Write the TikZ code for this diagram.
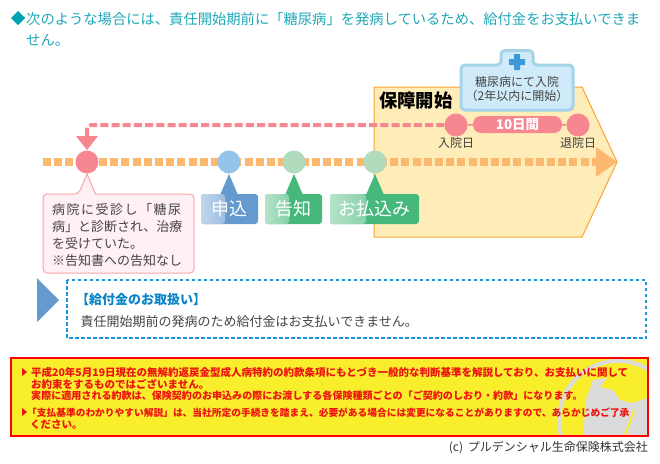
\documentclass[tikz,border=0pt]{standalone}
\usepackage{fontspec}
\setmainfont{Noto Sans CJK JP}
\usetikzlibrary{backgrounds}

\definecolor{headteal}{HTML}{1FA8B8}
\definecolor{diateal}{HTML}{00A2B5}
\definecolor{linepink}{HTML}{F6868F}
\definecolor{lineorange}{HTML}{FDB86F}
\definecolor{shieldfill}{HTML}{FFEDB9}
\definecolor{shieldline}{HTML}{F9A133}
\definecolor{dotblue}{HTML}{93C5EB}
\definecolor{dotgreen}{HTML}{B0DCBD}
\definecolor{tagblue}{HTML}{659ACF}
\definecolor{taggreen}{HTML}{47B87B}
\definecolor{notefill}{HTML}{FFF0F5}
\definecolor{noteline}{HTML}{F8A3AD}
\definecolor{capfill}{HTML}{CFEBFA}
\definecolor{capline}{HTML}{A5D4EA}
\definecolor{crossblue}{HTML}{3E97D6}
\definecolor{dashblue}{HTML}{1E96DC}
\definecolor{headblue}{HTML}{0A85C8}
\definecolor{warnfill}{HTML}{F9EE2B}
\definecolor{warnred}{HTML}{EE1111}
\definecolor{bodygray}{HTML}{444444}

\tikzset{
  headtext/.style={anchor=west, inner sep=0pt, text=headteal, font=\fontsize{14.3}{14.3}\selectfont},
  dot/.style={circle, inner sep=0pt, minimum size=#1},
  tag/.style={rounded corners=3pt, inner sep=0pt, minimum height=30pt, text=white,
    font=\fontsize{18}{18}\selectfont, fill=#1},
  warntext/.style={anchor=west, inner sep=0pt, text=warnred, font=\fontsize{10.5}{10.5}\selectfont\bfseries},
  smalltext/.style={inner sep=0pt, text=bodygray, font=\fontsize{12}{12}\selectfont},
  notetext/.style={anchor=west, inner sep=0pt, text=bodygray, font=\fontsize{13}{13}\selectfont},
}

\begin{document}
\begin{tikzpicture}[x=1pt, y=-1pt]
  \useasboundingbox (0,0) rectangle (660,463);

  % Heading
  \fill[diateal] (11,18) -- (18,11) -- (25,18) -- (18,25) -- cycle;
  \node[headtext] (head1) at (26,19) {次のような場合には、責任開始期前に「糖尿病」を発病しているため、給付金をお支払いできま};
  \node[headtext] (head2) at (26,40) {せん。};

  % Caption with cross tab
  \draw[capline, fill=capfill, line width=3pt, rounded corners=4pt]
    (461,65) -- (501,65) -- (501,50.5) -- (533,50.5) -- (533,65) -- (573,65)
    -- (573,110) -- (461,110) -- cycle;
  \fill[crossblue, rounded corners=0.5pt] (514,54) rectangle (520,70);
  \fill[crossblue, rounded corners=0.5pt] (509,59) rectangle (525,65);
  \node[smalltext] (cap1) at (517,82) {糖尿病にて入院};
  \node[smalltext] (cap2) at (517,96) {（2年以内に開始）};
  \node[inner sep=0pt, anchor=west, font=\fontsize{18.3}{18.3}\selectfont\bfseries] (cover) at (379,100.5) {保障開始};

  % Time line points
  \node[dot=23pt, fill=linepink] (onset) at (87,162) {};
  \node[dot=23pt, fill=dotblue] (apply) at (229,162) {};
  \node[dot=23pt, fill=dotgreen] (notify) at (294,162) {};
  \node[dot=23pt, fill=dotgreen] (pay) at (375,162) {};
  \node[dot=23pt, fill=linepink] (admit) at (456,125) {};
  \node[dot=23pt, fill=linepink] (leave) at (578,125) {};
  \node[fill=linepink, rounded corners=8pt, minimum width=89pt, minimum height=17pt, inner sep=0pt,
    text=white, font=\fontsize{13.5}{13.5}\selectfont\bfseries] (stay) at (517.5,124.5) {10日間};
  \node[smalltext, text=black!75] (admitday) at (456,143) {入院日};
  \node[smalltext, text=black!75] (leaveday) at (578,143) {退院日};
  \coordinate (start) at (43,162);
  \coordinate (tip) at (597,162);
  \coordinate (bend) at (87,125);
  \coordinate (drop) at (87,137);

  % Shield and lines behind the points
  \begin{scope}[on background layer]
    \draw[shieldline, fill=shieldfill, line width=1pt] (374,87) -- (582,87) -- (617,162) -- (582,237) -- (374,237) -- cycle;
    \draw[lineorange, line width=8pt, dash pattern=on 8pt off 3.2pt] (start) -- (tip);
    \draw[linepink, line width=4pt, dash pattern=on 8pt off 3.2pt, rounded corners=4pt] (admit) -- (bend) -- (drop);
  \end{scope}
  \draw[linepink, line width=1.5pt] (admit) -- (stay);
  \draw[linepink, line width=1.5pt] (stay) -- (leave);

  % Arrow heads
  \fill[lineorange] (596,147) -- (617,162) -- (596,177) -- cycle;
  \fill[linepink] (76,136) -- (98,136) -- (87,150) -- cycle;
  \fill[linepink] (85,128) rectangle (89,137);

  % Tags under the points
  \fill[tagblue] (229,174) -- (238,195) -- (220,195) -- cycle;
  \fill[taggreen] (294,174) -- (303,195) -- (285,195) -- cycle;
  \fill[taggreen] (375,174) -- (384,195) -- (366,195) -- cycle;
  \node[tag=tagblue, minimum width=57pt, path picture={
      \shade[left color=tagblue!40, right color=tagblue] (path picture bounding box.north west) rectangle ++(24,30);
    }] (applytag) at (229.5,209) {申込};
  \node[tag=taggreen, minimum width=57pt, path picture={
      \shade[left color=taggreen!40, right color=taggreen] (path picture bounding box.north west) rectangle ++(24,30);
    }] (notifytag) at (293.5,209) {告知};
  \node[tag=taggreen, minimum width=89pt, path picture={
      \shade[left color=taggreen!40, right color=taggreen] (path picture bounding box.north west) rectangle ++(36,30);
    }] (paytag) at (374.5,209) {お払込み};

  % Note under onset
  \draw[noteline, fill=notefill, line width=1pt, rounded corners=4pt]
    (43,194) -- (78.5,194) [sharp corners] -- (87,174) -- (95.5,194) [rounded corners=4pt] -- (194,194)
    -- (194,273) -- (43,273) -- cycle;
  \node[notetext, font=\fontsize{13}{13}\selectfont\addfontfeature{LetterSpace=11.5}] (note1) at (52,209.5) {病院に受診し「糖尿};
  \node[notetext] (note2) at (52,226.5) {病」と診断され、治療};
  \node[notetext] (note3) at (52,243.5) {を受けていた。};
  \node[notetext] (note4) at (52,260.5) {※告知書への告知なし};

  % Result box
  \fill[tagblue] (37,278) -- (59,300) -- (37,322) -- cycle;
  \draw[dashblue, line width=1.2pt, dash pattern=on 3.5pt off 2.5pt] (67,280) rectangle (646,338);
  \node[notetext, text=headblue, font=\fontsize{13}{13}\selectfont\bfseries] (result1) at (76,300) {【給付金のお取扱い】};
  \node[notetext] (result2) at (80.5,321.5) {責任開始期前の発病のため給付金はお支払いできません。};

  % Warning panel
  \fill[warnfill] (11,358) rectangle (648,436);
  \begin{scope}
    \clip (11,358) rectangle (648,436);
    \draw[black!14, line width=4pt] (618,420) circle (59);
    \fill[black!14] (583,436) -- (586,400) -- (593,380) -- (607,378) -- (600,387) -- (613,390)
      -- (620,400) -- (632,403) -- (648,398) -- (648,436) -- cycle;
    \draw[warnfill, line width=2pt] (634,410) -- (625,436);
  \end{scope}
  \draw[red, line width=2.5pt] (11,358) rectangle (648,436);
  \fill[warnred] (22,368) -- (27,372) -- (22,376) -- cycle;
  \fill[warnred] (22,408) -- (27,412) -- (22,416) -- cycle;
  \node[warntext] (warn1) at (31,372) {平成20年5月19日現在の無解約返戻金型成人病特約の約款条項にもとづき一般的な判断基準を解説しており、お支払いに関して};
  \node[warntext] (warn2) at (31,384.5) {お約束をするものではございません。};
  \node[warntext, font=\fontsize{10.05}{10.05}\selectfont\bfseries] (warn3) at (31,396) {実際に適用される約款は、保険契約のお申込みの際にお渡しする各保険種類ごとの「ご契約のしおり・約款」になります。};
  \node[warntext, font=\fontsize{9.72}{9.72}\selectfont\bfseries] (warn4) at (27,413) {「支払基準のわかりやすい解説」は、当社所定の手続きを踏まえ、必要がある場合には変更になることがありますので、あらかじめご了承};
  \node[warntext] (warn5) at (30,425) {ください。};

  % Copyright
  \node[inner sep=0pt, anchor=east, text=black!80, font=\fontsize{12}{12}\selectfont] (copyright) at (648,448) {(c)\hspace{2pt} プルデンシャル生命保険株式会社};
\end{tikzpicture}
\end{document}
